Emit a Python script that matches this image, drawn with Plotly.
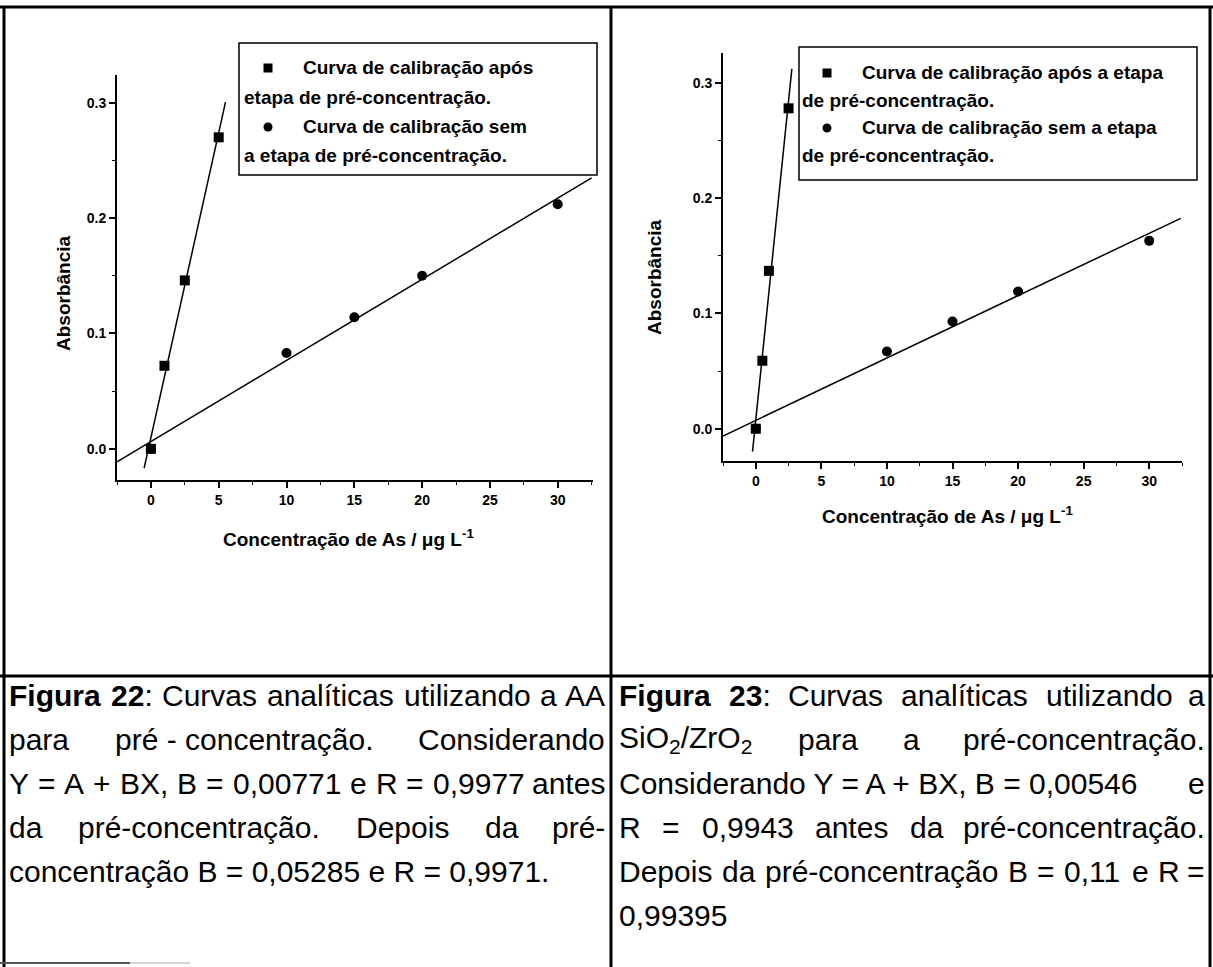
import re
import numpy as np
import plotly.graph_objects as go

W, H = 1213, 967
FONT = "Liberation Sans, Arial, sans-serif"

# ---- Figura 22: pré-concentração com AA ----
conc_pre_22 = [0, 1, 2.5, 5]
abs_pre_22 = [0.000, 0.072, 0.146, 0.270]
conc_sem_22 = [0, 10, 15, 20, 30]
abs_sem_22 = [0.000, 0.083, 0.114, 0.150, 0.212]

# ---- Figura 23: pré-concentração com SiO2/ZrO2 ----
conc_pre_23 = [0, 0.5, 1, 2.5]
abs_pre_23 = [0.000, 0.059, 0.137, 0.278]
conc_sem_23 = [0, 10, 15, 20, 30]
abs_sem_23 = [0.000, 0.067, 0.093, 0.119, 0.163]

# extent (in concentration units) of each fitted line
fit_span_pre_22 = [-0.5, 5.5]
fit_span_sem_22 = [-2.5, 32.5]
fit_span_pre_23 = [-0.25, 2.75]
fit_span_sem_23 = [-2.5, 32.4]

x_ticks = [0, 5, 10, 15, 20, 25, 30]
y_ticks = [0.0, 0.1, 0.2, 0.3]

legend_22 = ["Curva de calibração após", "etapa de pré-concentração.",
             "Curva de calibração sem", "a etapa de pré-concentração."]
legend_23 = ["Curva de calibração após a etapa", "de pré-concentração.",
             "Curva de calibração sem a etapa", "de pré-concentração."]
x_title = "Concentração de As / μg L<sup>-1</sup>"
y_title = "Absorbância"

# caption lines: list of words, and whether the line is justified
caption_22 = [
    (["<b>Figura</b>", "<b>22</b>:", "Curvas", "analíticas", "utilizando", "a", "AA"], True),
    (["para", "pré - concentração.", "Considerando"], True),
    (["Y", "=", "A", "+", "BX,", "B", "=", "0,00771", "e", "R", "=", "0,9977", "antes"], True),
    (["da", "pré-concentração.", "Depois", "da", "pré-"], True),
    (["concentração B = 0,05285 e R = 0,9971."], False),
]
caption_23 = [
    (["<b>Figura</b>", "<b>23</b>:", "Curvas", "analíticas", "utilizando", "a"], True),
    (["SiO<sub>2</sub>/ZrO<sub>2</sub>", "para", "a", "pré-concentração."], True),
    (["Considerando Y = A + BX, B = 0,00546", "e"], True),
    (["R", "=", "0,9943", "antes", "da", "pré-concentração."], True),
    (["Depois", "da", "pré-concentração", "B", "=", "0,11", "e", "R", "="], True),
    (["0,99395"], False),
]

# ---- layout geometry (pixels) ----
CAP_FS = 30
CAP_Y0, CAP_DY = 695, 44
COL_L = (8, 606)
COL_R = (618, 1206)
ROW_LINE_Y = 676

def px(x):
    return x / W

def py(y):
    return 1 - y / H

# Arial advance widths (per 1000 em), regular and bold
AW = {" ": 278, ",": 278, ".": 278, "-": 333, "/": 278, ":": 278, "=": 584, "+": 584,
      "A": 667, "B": 667, "C": 722, "D": 722, "F": 611, "O": 778, "R": 722, "S": 667,
      "X": 667, "Y": 667, "Z": 611, "a": 556, "c": 500, "d": 556, "e": 556, "g": 556,
      "i": 222, "l": 222, "n": 556, "o": 556, "p": 556, "r": 333, "s": 500, "t": 278,
      "u": 556, "v": 500, "z": 500, "é": 556, "í": 278, "ã": 556, "ç": 500}
AWB = {" ": 278, "F": 611, "i": 278, "g": 611, "u": 611, "r": 389, "a": 556}


def text_width(html, size):
    total, bold, sub = 0.0, False, False
    for part in re.split(r"(<[^>]+>)", html):
        if part.startswith("<"):
            on = not part.startswith("</")
            tag = part.strip("</>")
            if tag == "b":
                bold = on
            elif tag in ("sub", "sup"):
                sub = on
            continue
        for ch in part:
            if bold:
                w = AWB.get(ch, 556)
            else:
                w = AW.get(ch, 556)
            total += w * (0.7 if sub else 1.0)
    return total * size / 1000


annotations = []
shapes = []


def add_text(text, x, y, anchor="left", size=CAP_FS, bold=False, angle=0):
    annotations.append(dict(
        text=text, x=px(x), y=py(y), xref="paper", yref="paper",
        xanchor=anchor, yanchor="middle", showarrow=False, borderpad=0,
        textangle=angle,
        font=dict(family=FONT, size=size, color="black",
                  weight="bold" if bold else "normal")))


def add_caption(lines, col):
    x0, x1 = col
    for i, (words, justify) in enumerate(lines):
        y = CAP_Y0 + i * CAP_DY
        if not justify or len(words) == 1:
            add_text(" ".join(words), x0, y)
            continue
        widths = [text_width(w, CAP_FS) for w in words]
        gap = (x1 - x0 - sum(widths)) / (len(words) - 1)
        x = x0
        for j, (w, wd) in enumerate(zip(words, widths)):
            if j == len(words) - 1:
                add_text(w, x1, y, anchor="right")
            else:
                add_text(w, x, y)
            x += wd + gap


add_caption(caption_22, COL_L)
add_caption(caption_23, COL_R)

# ---- table rules ----
def line(x0, y0, x1, y1, width=3, color="black"):
    shapes.append(dict(type="line", xref="paper", yref="paper",
                       x0=px(x0), y0=py(y0), x1=px(x1), y1=py(y1),
                       line=dict(color=color, width=width)))

line(0, 7, W, 7)
line(4, 7, 4, H)
line(1210, 7, 1210, H)
line(611, 7, 611, H)
line(0, ROW_LINE_Y, W, ROW_LINE_Y)
line(0, 963, 130, 963, width=2, color="#555555")
line(130, 963, 190, 963, width=1, color="#aaaaaa")

# ---- plots ----
fig = go.Figure()

panels = [
    dict(xa="x", ya="y", xdom=(117, 593), ydom=(75, 480), xr=[-2.5, 32.6], yr=[-0.027, 0.324],
         pre=(conc_pre_22, abs_pre_22, fit_span_pre_22),
         sem=(conc_sem_22, abs_sem_22, fit_span_sem_22),
         ytitle=(64, 293), xtitle=(348, 538),
         legend=legend_22, box=(239, 43, 597, 175), rows=(68, 97, 127, 155),
         sym_x=268, text_x=302, wrap_x=243),
    dict(xa="x2", ya="y2", xdom=(723, 1182), ydom=(53, 461), xr=[-2.5, 32.5], yr=[-0.028, 0.326],
         pre=(conc_pre_23, abs_pre_23, fit_span_pre_23),
         sem=(conc_sem_23, abs_sem_23, fit_span_sem_23),
         ytitle=(655, 277), xtitle=(947, 515),
         legend=legend_23, box=(799, 47, 1197, 180), rows=(73, 100, 128, 155),
         sym_x=827, text_x=861, wrap_x=801),
]

for p in panels:
    for (cx, cy, span), sym in ((p["sem"], "circle"), (p["pre"], "square")):
        b, a = np.polyfit(cx, cy, 1)
        xs = np.array(span)
        fig.add_trace(go.Scatter(x=xs, y=a + b * xs, mode="lines",
                                 line=dict(color="black", width=1.5),
                                 xaxis=p["xa"], yaxis=p["ya"], showlegend=False,
                                 hoverinfo="skip"))
    for (cx, cy, span), sym in ((p["sem"], "circle"), (p["pre"], "square")):
        fig.add_trace(go.Scatter(x=cx, y=cy, mode="markers",
                                 marker=dict(symbol=sym, size=10, color="black"),
                                 xaxis=p["xa"], yaxis=p["ya"], showlegend=False))

    # axis titles
    add_text(y_title, p["ytitle"][0], p["ytitle"][1], anchor="center", size=19,
             bold=True, angle=-90)
    add_text(x_title, p["xtitle"][0], p["xtitle"][1], anchor="center", size=19, bold=True)

    # legend box
    bx0, by0, bx1, by1 = p["box"]
    shapes.append(dict(type="rect", xref="paper", yref="paper",
                       x0=px(bx0), y0=py(by1), x1=px(bx1), y1=py(by0),
                       line=dict(color="black", width=1.5), fillcolor="white"))
    r = p["rows"]
    s = 4.5
    shapes.append(dict(type="rect", xref="paper", yref="paper",
                       x0=px(p["sym_x"] - s), x1=px(p["sym_x"] + s),
                       y0=py(r[0] + s), y1=py(r[0] - s),
                       line=dict(width=0), fillcolor="black"))
    shapes.append(dict(type="circle", xref="paper", yref="paper",
                       x0=px(p["sym_x"] - s), x1=px(p["sym_x"] + s),
                       y0=py(r[2] + s), y1=py(r[2] - s),
                       line=dict(width=0), fillcolor="black"))
    add_text(p["legend"][0], p["text_x"], r[0], size=19, bold=True)
    add_text(p["legend"][1], p["wrap_x"], r[1], size=19, bold=True)
    add_text(p["legend"][2], p["text_x"], r[2], size=19, bold=True)
    add_text(p["legend"][3], p["wrap_x"], r[3], size=19, bold=True)

axis_style = dict(showline=True, linecolor="black", linewidth=2, ticks="outside",
                  ticklen=6, tickwidth=1.5, tickcolor="black", showgrid=False,
                  zeroline=False, mirror=False,
                  tickfont=dict(family=FONT, size=14, color="black", weight="bold"))

layout = dict(width=W, height=H, margin=dict(l=0, r=0, t=0, b=0),
              paper_bgcolor="white", plot_bgcolor="white",
              annotations=annotations, shapes=shapes, showlegend=False)

for p in panels:
    xk = "xaxis" if p["xa"] == "x" else "xaxis2"
    yk = "yaxis" if p["ya"] == "y" else "yaxis2"
    layout[xk] = dict(axis_style, domain=[px(p["xdom"][0]), px(p["xdom"][1])],
                      range=p["xr"], tickvals=x_ticks,
                      minor=dict(ticks="outside", ticklen=3, tickwidth=1.2,
                                 tickcolor="black", tick0=0, dtick=2.5),
                      anchor=p["ya"])
    layout[yk] = dict(axis_style, domain=[py(p["ydom"][1]), py(p["ydom"][0])],
                      range=p["yr"], tickvals=y_ticks, tickformat=".1f",
                      minor=dict(ticks="outside", ticklen=3, tickwidth=1.2,
                                 tickcolor="black", tick0=0, dtick=0.05),
                      anchor=p["xa"])

fig.update_layout(**layout)
fig.write_html("out.html")
